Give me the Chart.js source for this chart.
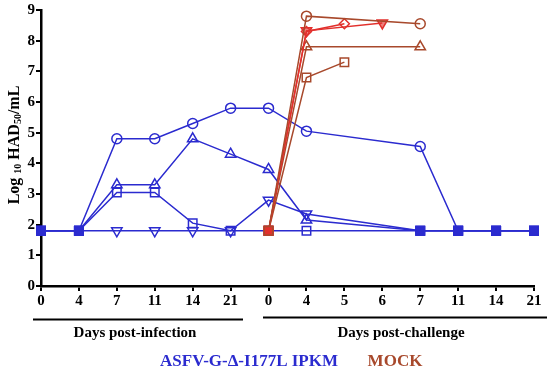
<!DOCTYPE html>
<html>
<head>
<meta charset="utf-8">
<script src="https://cdn.jsdelivr.net/npm/chart.js@4"></script>
<style>
html,body{margin:0;padding:0;background:#fff;}
#wrap{width:550px;height:373px;position:relative;}
</style>
</head>
<body>
<div id="wrap"><canvas id="c" width="550" height="373"></canvas></div>
<script>
// ---- data ----
const dayLabels = ['0','4','7','11','14','21','0','4','5','6','7','11','14','21'];
// ASFV-G-Δ-I177L IPKM animals
const ipkmCircle   = [1.8,1.8,4.8,4.8,5.3,5.8,5.8,5.05,null,null,4.55,1.8,1.8,1.8];
const ipkmTriUp    = [1.8,1.8,3.3,3.3,4.8,4.3,3.8,2.15,null,null,1.8,1.8,1.8,1.8];
const ipkmSquare   = [1.8,1.8,3.05,3.05,2.05,1.8,1.8,1.8,null,null,1.8,1.8,1.8,1.8];
const ipkmTriDown  = [1.8,1.8,1.8,1.8,1.8,1.8,2.8,2.35,null,null,1.8,1.8,1.8,1.8];
// MOCK animals
const mockCircle   = [null,null,null,null,null,null,1.8,8.8,null,null,8.55,null,null,null];
const mockDiamond  = [null,null,null,null,null,null,1.8,8.3,8.55,null,null,null,null,null];
const mockTriDown  = [null,null,null,null,null,null,1.8,8.32,null,8.58,null,null,null,null];
const mockTriUp    = [null,null,null,null,null,null,1.8,7.8,null,null,7.8,null,null,null];
const mockSquare   = [null,null,null,null,null,null,1.8,6.8,7.3,null,null,null,null,null];
const yTicks = [0,1,2,3,4,5,6,7,8,9];
const detectionLimit = 1.8;

const BLUE = '#2b2bcf';
const BROWN = '#a8492c';
const RED = '#e2302c';
const blueFilledIdx = [0,1,10,11,12,13];
const mockFilledIdx = [6];

function ds(data, color, style, rot, radius, filledIdx, order, fillColor, solid){
  const isFilled = ctx => filledIdx.includes(ctx.dataIndex) && ctx.raw === detectionLimit;
  return {
    data, borderColor: color, borderWidth: 1.5, spanGaps: true, order,
    pointStyle: ctx => isFilled(ctx) ? 'rect' : style,
    rotation: ctx => isFilled(ctx) ? 0 : rot,
    radius: ctx => isFilled(ctx) ? 6 : radius,
    pointBorderColor: color,
    pointBackgroundColor: ctx => isFilled(ctx) ? solid : (fillColor || 'rgba(0,0,0,0)'),
    pointBorderWidth: 1.5,
    tension: 0
  };
}

const serif = '"Liberation Serif","Times New Roman",serif';

const decor = {
  id: 'decor',
  afterDraw(chart){
    const c = chart.ctx;
    c.save();
    c.strokeStyle = '#000'; c.lineWidth = 2;
    c.beginPath(); c.moveTo(33,319.5); c.lineTo(243,319.5); c.stroke();
    c.beginPath(); c.moveTo(263,317.5); c.lineTo(547,317.5); c.stroke();
    c.fillStyle = '#000'; c.textAlign = 'center'; c.textBaseline = 'middle';
    c.font = 'bold 15px ' + serif;
    c.fillText('Days post-infection', 135, 333);
    c.fillText('Days post-challenge', 401, 333);
    c.font = 'bold 17px ' + serif;
    c.fillStyle = BLUE;
    c.fillText('ASFV-G-\u0394-I177L IPKM', 249, 362);
    c.fillStyle = BROWN;
    c.fillText('MOCK', 395, 362);
    // y-axis title with subscripts
    c.translate(15, 145); c.rotate(-Math.PI/2);
    const parts = [['Log ',16,0],['10',10,3],[' HAD',16,0],['50',10,3],['/mL',16,0]];
    let total = 0;
    parts.forEach(p => { c.font = 'bold '+p[1]+'px '+serif; total += c.measureText(p[0]).width; });
    let x = -total/2;
    c.fillStyle = '#000'; c.textAlign = 'left';
    parts.forEach(p => { c.font = 'bold '+p[1]+'px '+serif; c.fillText(p[0], x, p[2]); x += c.measureText(p[0]).width; });
    c.restore();
  }
};

new Chart(document.getElementById('c'), {
  type: 'line',
  data: {
    labels: dayLabels,
    datasets: [
      ds(mockCircle, BROWN, 'circle', 0, 5, mockFilledIdx, 1, null, RED),
      ds(mockDiamond, RED, 'rectRot', 0, 5, mockFilledIdx, 1, null, RED),
      ds(mockTriDown, RED, 'triangle', 180, 6, mockFilledIdx, 1, 'rgba(226,48,44,0.6)', RED),
      ds(mockTriUp, BROWN, 'triangle', 0, 6, mockFilledIdx, 1, null, RED),
      ds(mockSquare, BROWN, 'rect', 0, 6, mockFilledIdx, 1, null, RED),
      ds(ipkmCircle, BLUE, 'circle', 0, 5, blueFilledIdx, 2, null, BLUE),
      ds(ipkmTriUp, BLUE, 'triangle', 0, 6, blueFilledIdx, 2, null, BLUE),
      ds(ipkmSquare, BLUE, 'rect', 0, 6, blueFilledIdx, 2, null, BLUE),
      ds(ipkmTriDown, BLUE, 'triangle', 180, 6, blueFilledIdx, 2, null, BLUE)
    ]
  },
  options: {
    responsive: false, animation: false,
    layout: { padding: { top: 9, right: 16, left: 0, bottom: 0 } },
    plugins: { legend: { display: false }, tooltip: { enabled: false } },
    scales: {
      x: {
        type: 'category', offset: false,
        grid: { drawOnChartArea: false, drawTicks: true, tickLength: 5, color: '#000', lineWidth: 2 },
        border: { display: true, color: '#000', width: 2.5 },
        ticks: { color: '#000', font: { family: serif, size: 15, weight: 'bold' }, padding: 1, maxRotation: 0, autoSkip: false },
        afterFit: s => { s.height = 87; }
      },
      y: {
        min: 0, max: 9,
        afterBuildTicks: s => { s.ticks = yTicks.map(v => ({ value: v })); },
        grid: { drawOnChartArea: false, drawTicks: true, tickLength: 5, color: '#000', lineWidth: 2 },
        border: { display: true, color: '#000', width: 2.5 },
        ticks: { color: '#000', font: { family: serif, size: 15, weight: 'bold' }, padding: 1 },
        afterFit: s => { s.width = 41; }
      }
    }
  },
  plugins: [decor]
});
</script>
</body>
</html>
